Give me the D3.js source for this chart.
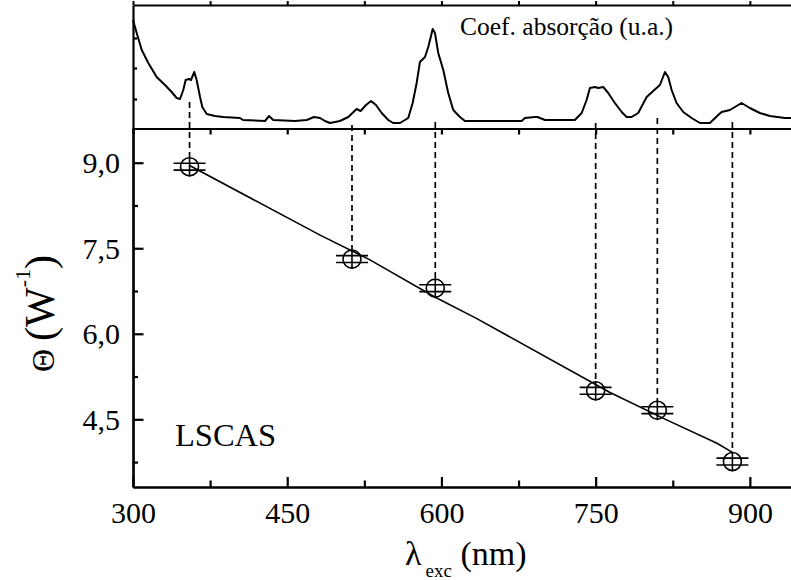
<!DOCTYPE html>
<html>
<head>
<meta charset="utf-8">
<script src="https://cdn.jsdelivr.net/npm/d3@7"></script>
<style>
  body { margin: 0; background: #fff; }
</style>
</head>
<body>
<div id="chart"></div>
<script>
// Excitation wavelengths (nm) and thermal parameter Theta (W^-1)
const lambdaExc = [355, 513, 594, 750, 810, 883];
const theta = [8.93, 7.31, 6.80, 5.00, 4.66, 3.76];
const thetaErr = [0.06, 0.06, 0.06, 0.06, 0.06, 0.06];

// Top end of the dashed guide lines (absorption units)
const guideTop = [0.19, -0.04, -0.01, -0.02, 0.03, -0.01];

// Fitted line through the points
const fitLambda = [355, 482, 530, 594, 634, 764, 819, 868, 883];
const fitTheta = [8.95, 7.73, 7.30, 6.64, 6.27, 4.97, 4.49, 4.08, 3.92];

// Absorption spectrum (arbitrary units)
const specLambda = [300, 303.6, 308.5, 314.9, 323, 331.1, 337.6, 342.5, 345.7, 348.9, 351.2, 354.5, 356.4, 359.6, 361.9,
  365.2, 367.4, 371.7, 379.7, 387.8, 404, 407, 428.4, 432.3, 436.4, 457.5, 469, 476, 481.9, 486.7, 491.6, 501.3, 509.4,
  517.5, 521.4, 526.6, 531.5, 536.3, 541.9, 548.3, 553.1, 559.7, 567.7, 572, 575.9, 579.1, 584, 587.2, 591.5, 593.7,
  596.9, 601.8, 606.6, 611.5, 618, 622.9, 645.5, 678, 681.2, 690.9, 693.6, 695.8, 700.7, 729.8, 736.4, 741.2, 744.4,
  749.3, 752.5, 757.4, 762.2, 768.7, 775.3, 780.1, 785, 791.4, 799.6, 806, 812.5, 817.4, 820.6, 823.9, 828.7, 835.2,
  843.3, 851.4, 861.1, 869.2, 872.5, 880.6, 891.9, 900, 909.7, 919.5, 934.1, 940];
const specAbs = [1.01, 0.88, 0.71, 0.58, 0.44, 0.36, 0.29, 0.23, 0.22, 0.31, 0.41, 0.42, 0.41, 0.49, 0.41,
  0.24, 0.14, 0.07, 0.05, 0.04, 0.03, 0.01, 0.00, 0.05, 0.01, 0.00, 0.01, 0.04, 0.03, 0.00, -0.02, 0.00, 0.04,
  0.12, 0.10, 0.16, 0.20, 0.16, 0.08, 0.01, -0.02, -0.02, 0.03, 0.18, 0.38, 0.59, 0.64, 0.74, 0.92, 0.88,
  0.68, 0.51, 0.28, 0.11, 0.04, 0.00, 0.00, 0.00, 0.03, 0.04, 0.04, 0.03, 0.01, 0.01, 0.08, 0.21, 0.33,
  0.34, 0.33, 0.34, 0.28, 0.18, 0.09, 0.04, 0.04, 0.08, 0.24, 0.30, 0.36, 0.49, 0.44, 0.31, 0.18, 0.09,
  0.03, -0.02, -0.02, 0.06, 0.09, 0.11, 0.18, 0.13, 0.08, 0.05, 0.03, 0.03];

const xMajor = [300, 450, 600, 750, 900];
const xMinor = [375, 525, 675, 825];
const yMajor = [4.5, 6.0, 7.5, 9.0];
const yMinor = [3.75, 5.25, 6.75, 8.25];
const topTicks = [0.22, 0.53, 0.83];

const width = 791, height = 580;
const left = 133, right = 791;
const bottomY = 487, midY = 128.5, topY = 5;
const serif = "'Liberation Serif', 'Times New Roman', Times, 'DejaVu Serif', serif";

const svg = d3.select("#chart")
  .append("svg")
  .attr("width", width)
  .attr("height", height)
  .attr("font-family", serif);

const x = d3.scaleLinear().domain([300, 940]).range([left, right]);
const y = d3.scaleLinear().domain([3.313, 9.6]).range([bottomY, midY]);
const yTop = d3.scaleLinear().domain([-0.075, 1.16]).range([midY, topY]);

const fmt = d => d3.format(".1f")(d).replace(".", ",");

function styleAxis(g, sw) {
  g.attr("font-family", serif);
  g.selectAll("path.domain").attr("stroke", "#000").attr("stroke-width", sw);
  g.selectAll(".tick line").attr("stroke", "#000").attr("stroke-width", sw);
  g.selectAll(".tick text")
    .style("font-family", serif)
    .style("font-size", "30px")
    .attr("fill", "#000");
}

// Bottom axis
svg.append("g")
  .attr("transform", `translate(0,${bottomY})`)
  .call(d3.axisBottom(x).tickValues(xMajor).tickSize(-10).tickSizeOuter(0).tickPadding(15))
  .call(g => styleAxis(g, 2.2));
svg.append("g")
  .attr("transform", `translate(0,${bottomY})`)
  .call(d3.axisBottom(x).tickValues(xMinor).tickSize(-6.5).tickSizeOuter(0).tickFormat(""))
  .call(g => styleAxis(g, 2.2));

// Left axis
svg.append("g")
  .attr("transform", `translate(${left},0)`)
  .call(d3.axisLeft(y).tickValues(yMajor).tickSize(-10.5).tickSizeOuter(0).tickPadding(13).tickFormat(fmt))
  .call(g => styleAxis(g, 2.2))
  .call(g => g.selectAll(".tick text").attr("dy", "0.34em"));
svg.append("g")
  .attr("transform", `translate(${left},0)`)
  .call(d3.axisLeft(y).tickValues(yMinor).tickSize(-5).tickSizeOuter(0).tickFormat(""))
  .call(g => styleAxis(g, 2.2));

// Divider between panels (top axis of the lower panel)
svg.append("g")
  .attr("transform", `translate(0,${midY})`)
  .call(d3.axisTop(x).tickValues(xMajor.concat(xMinor)).tickSize(-6).tickSizeOuter(0).tickFormat(""))
  .call(g => styleAxis(g, 2.2));

// Top panel frame
svg.append("g")
  .attr("transform", `translate(0,${topY})`)
  .call(d3.axisTop(x).tickValues(xMajor.concat(xMinor)).tickSize(4).tickSizeOuter(0).tickFormat(""))
  .call(g => styleAxis(g, 2));
svg.append("g")
  .attr("transform", `translate(${left},0)`)
  .call(d3.axisLeft(yTop).tickValues(topTicks).tickSize(-4).tickSizeOuter(0).tickFormat(""))
  .call(g => styleAxis(g, 2.2));

// Absorption spectrum
const spec = specLambda.map((d, i) => [d, specAbs[i]]);
svg.append("path")
  .datum(spec)
  .attr("fill", "none")
  .attr("stroke", "#000")
  .attr("stroke-width", 2)
  .attr("stroke-linejoin", "round")
  .attr("d", d3.line().x(d => x(d[0])).y(d => yTop(d[1])));

// Dashed guide lines from the points to the spectrum
svg.append("g")
  .selectAll("line")
  .data(lambdaExc)
  .join("line")
  .attr("x1", d => x(d))
  .attr("x2", d => x(d))
  .attr("y1", (d, i) => yTop(guideTop[i]))
  .attr("y2", (d, i) => y(theta[i]) - 9)
  .attr("stroke", "#000")
  .attr("stroke-width", 1.7)
  .attr("stroke-dasharray", "6,4");

// Fit line
const fit = fitLambda.map((d, i) => [d, fitTheta[i]]);
svg.append("path")
  .datum(fit)
  .attr("fill", "none")
  .attr("stroke", "#000")
  .attr("stroke-width", 1.6)
  .attr("d", d3.line().x(d => x(d[0])).y(d => y(d[1])));

// Points with error bars
const pts = svg.append("g")
  .selectAll("g")
  .data(lambdaExc.map((d, i) => ({ l: d, t: theta[i], e: thetaErr[i] })))
  .join("g")
  .attr("transform", d => `translate(${x(d.l)},${y(d.t)})`);

pts.append("circle")
  .attr("r", 9)
  .attr("fill", "none")
  .attr("stroke", "#000")
  .attr("stroke-width", 1.6);
pts.append("line")
  .attr("y1", -9).attr("y2", 10)
  .attr("stroke", "#000").attr("stroke-width", 1.6);
pts.each(function(d) {
  const g = d3.select(this);
  const dy = y(d.t) - y(d.t + d.e);
  [-dy, dy].forEach(o => {
    g.append("line")
      .attr("x1", -16).attr("x2", 16)
      .attr("y1", o).attr("y2", o)
      .attr("stroke", "#000").attr("stroke-width", 1.6);
  });
});

// Labels
svg.append("text")
  .attr("x", 460)
  .attr("y", 35)
  .style("font-family", serif)
  .style("font-size", "25.5px")
  .text("Coef. absorção (u.a.)");

svg.append("text")
  .attr("x", 175)
  .attr("y", 446)
  .style("font-family", serif)
  .style("font-size", "32.5px")
  .text("LSCAS");

const xt = svg.append("text")
  .attr("x", 405)
  .attr("y", 565)
  .style("font-family", serif)
  .style("font-size", "34px");
xt.append("tspan").text("λ");
xt.append("tspan").attr("dx", 4).attr("dy", 12).style("font-size", "19px").text("exc");
xt.append("tspan").attr("dy", -12).text(" (nm)");

const yt = svg.append("text")
  .attr("transform", "translate(54,372) rotate(-90)")
  .style("font-family", serif)
  .style("font-size", "42px");
yt.append("tspan").style("font-size", "32px").text("Θ");
yt.append("tspan").attr("dx", 8).text("(W");
yt.append("tspan").attr("dy", -24).style("font-size", "22px").text("-1");
yt.append("tspan").attr("dy", 24).text(")");
</script>
</body>
</html>
